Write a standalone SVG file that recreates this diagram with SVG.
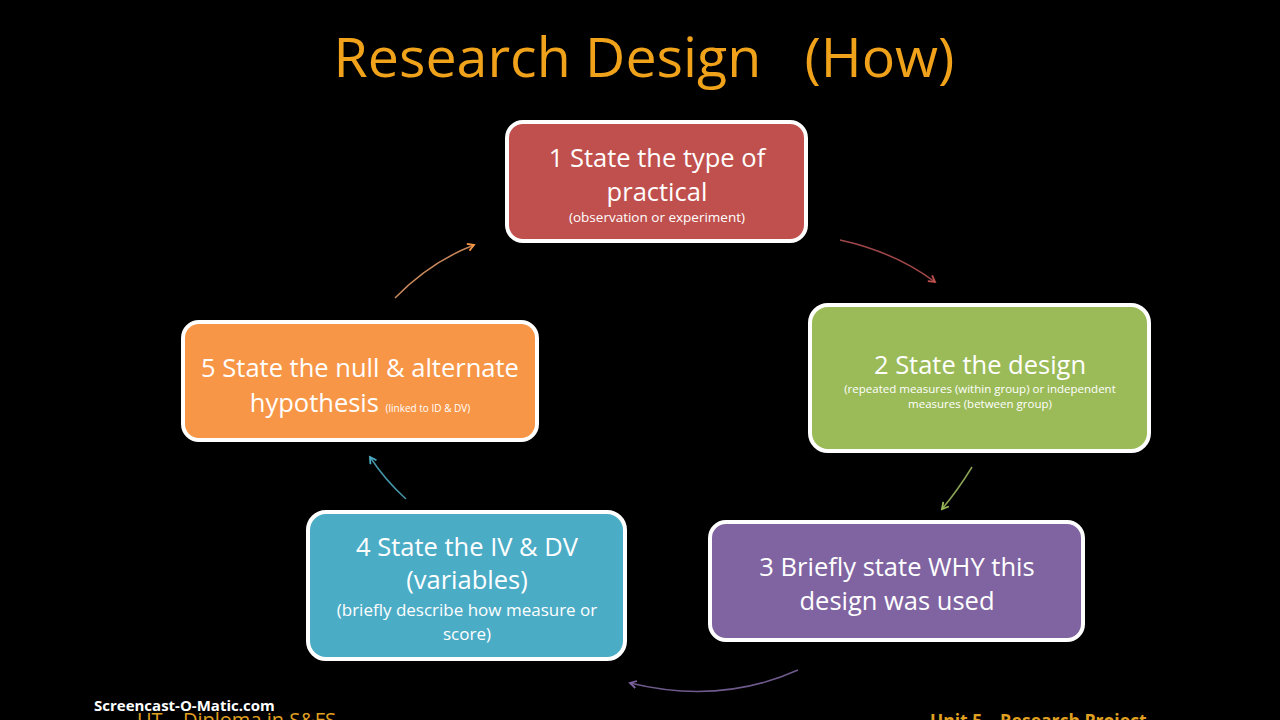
<svg xmlns="http://www.w3.org/2000/svg" width="1280" height="720" viewBox="0 0 1280 720">
<style>
.box{stroke:#fff;stroke-width:4}
.t{font-family:"Open Sans","Liberation Sans",sans-serif;fill:#fff;text-anchor:middle}
.big{font-size:25.5px}
.conn{fill:none;stroke-width:1.5}
</style>
<defs>
<marker id="mo" viewBox="0 0 10 10" refX="8" refY="5" markerWidth="9" markerHeight="9" markerUnits="userSpaceOnUse" orient="auto"><path d="M1,1 L8,5 L1,9" fill="none" stroke="#F79646" stroke-width="2"/></marker>
<marker id="mr" viewBox="0 0 10 10" refX="8" refY="5" markerWidth="9" markerHeight="9" markerUnits="userSpaceOnUse" orient="auto"><path d="M1,1 L8,5 L1,9" fill="none" stroke="#C0504D" stroke-width="2"/></marker>
<marker id="mg" viewBox="0 0 10 10" refX="8" refY="5" markerWidth="9" markerHeight="9" markerUnits="userSpaceOnUse" orient="auto"><path d="M1,1 L8,5 L1,9" fill="none" stroke="#9BBB59" stroke-width="2"/></marker>
<marker id="mp" viewBox="0 0 10 10" refX="8" refY="5" markerWidth="9" markerHeight="9" markerUnits="userSpaceOnUse" orient="auto"><path d="M1,1 L8,5 L1,9" fill="none" stroke="#8064A2" stroke-width="2"/></marker>
<marker id="mt" viewBox="0 0 10 10" refX="8" refY="5" markerWidth="9" markerHeight="9" markerUnits="userSpaceOnUse" orient="auto"><path d="M1,1 L8,5 L1,9" fill="none" stroke="#4BACC6" stroke-width="2"/></marker>
</defs>
<rect width="1280" height="720" fill="#000"/>
<text x="644" y="77" font-family="'Open Sans','Liberation Sans',sans-serif" font-size="55.5" fill="#F0A21A" text-anchor="middle" xml:space="preserve">Research Design   (How)</text>

<g id="connectors">
<path class="conn" d="M395,298 Q430,262 474,245" stroke="#C9885A" marker-end="url(#mo)"/>
<path class="conn" d="M840,240 Q895,252 935,282" stroke="#A0474A" marker-end="url(#mr)"/>
<path class="conn" d="M972,467 Q958,490 942,509" stroke="#8AA355" marker-end="url(#mg)"/>
<path class="conn" d="M798,670 Q720,705 630,683" stroke="#6E5A8C" marker-end="url(#mp)"/>
<path class="conn" d="M406,499 Q385,480 370,457" stroke="#4595A8" marker-end="url(#mt)"/>
</g>

<g id="node1">
<rect class="box" x="507" y="122" width="299" height="119" rx="16" fill="#C0504D"/>
<text class="t big" x="657" y="167">1 State the type of</text>
<text class="t big" x="657" y="201">practical</text>
<text class="t" x="657" y="222" font-size="13.5">(observation or experiment)</text>
</g>

<g id="node2">
<rect class="box" x="810" y="305" width="339" height="146" rx="18" fill="#9BBB59"/>
<text class="t big" x="980" y="374">2 State the design</text>
<text class="t" x="980" y="393" font-size="11.5">(repeated measures (within group) or independent</text>
<text class="t" x="980" y="408" font-size="11.5">measures (between group)</text>
</g>

<g id="node3">
<rect class="box" x="710" y="522" width="373" height="118" rx="16" fill="#8064A2"/>
<text class="t big" x="897" y="576">3 Briefly state WHY this</text>
<text class="t big" x="897" y="610">design was used</text>
</g>

<g id="node4">
<rect class="box" x="308" y="512" width="317" height="147" rx="18" fill="#4BACC6"/>
<text class="t big" x="467" y="556">4 State the IV &amp; DV</text>
<text class="t big" x="467" y="589">(variables)</text>
<text class="t" x="467" y="616" font-size="17">(briefly describe how measure or</text>
<text class="t" x="467" y="640" font-size="17">score)</text>
</g>

<g id="node5">
<rect class="box" x="183" y="322" width="354" height="118" rx="16" fill="#F79646"/>
<text class="t big" x="360" y="377">5 State the null &amp; alternate</text>
<text class="t" x="360" y="412"><tspan font-size="25.5">hypothesis </tspan><tspan font-size="10">(linked to ID &amp; DV)</tspan></text>
</g>

<text x="94" y="711" font-family="'Open Sans','Liberation Sans',sans-serif" font-weight="bold" font-size="15" fill="#fff">Screencast-O-Matic.com</text>
<text x="137" y="727" font-family="'Open Sans','Liberation Sans',sans-serif" font-size="20" fill="#E0A020">UT – Diploma in S&amp;FS</text>
<text x="930" y="727" font-family="'Open Sans','Liberation Sans',sans-serif" font-weight="bold" font-size="17.5" fill="#E0A020">Unit 5 – Research Project</text>
</svg>
